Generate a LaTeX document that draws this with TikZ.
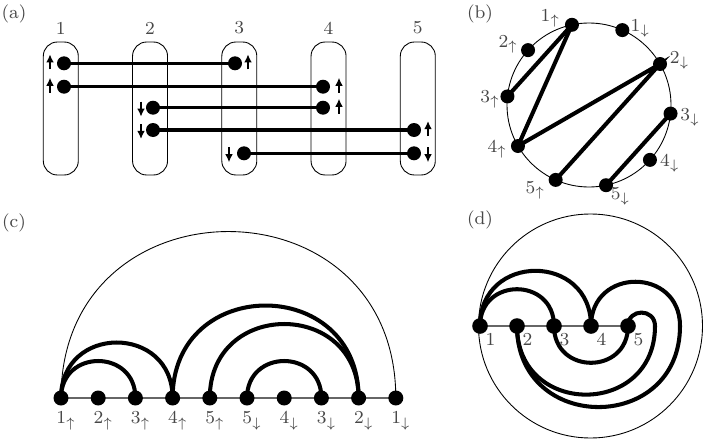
\documentclass[tikz,border=0pt]{standalone}
\usetikzlibrary{arrows.meta}
\newcommand{\tlab}[1]{\scalebox{1.3}{\footnotesize #1}}
\tikzset{
  txt/.style={black!72, inner sep=1pt},
  bond/.style={line width=1.9pt},
  chord/.style={line width=2.3pt},
  thinline/.style={line width=0.5pt},
  base/.style={line width=0.6pt, black!60},
  spin/.style={line width=1.5pt, -{Latex[length=4.6pt,width=4.4pt]}},
  colbox/.style={draw, line width=0.5pt, rounded corners=8pt, minimum width=0.7cm, minimum height=2.66cm, inner sep=0pt},
  hump/.style={out=90, in=90, looseness=1.7},
  dip/.style={out=-90, in=-90, looseness=1.7},
}
\begin{document}
\begin{tikzpicture}[x=0.02cm, y=0.02cm]
    \useasboundingbox (0,0) rectangle (703,444);

    % Hình (a): các cột và spin
    \node[txt] (ta) at (14,430) {\tlab{(a)}};
    \foreach \i in {1,...,5} {
        \node[colbox] (box\i) at ({60.8+89.25*(\i-1)}, 335.5) {};
        \node[txt] (num\i) at ({60.8+89.25*(\i-1)}, 416) {\tlab{\i}};
    }
    \coordinate (a1a) at (64, 380.7);
    \coordinate (a1b) at (64, 357.3);
    \coordinate (a2a) at (153, 336.3);
    \coordinate (a2b) at (153, 314);
    \coordinate (a3a) at (235, 380.7);
    \coordinate (a3b) at (244, 290.7);
    \coordinate (a4a) at (323, 357.3);
    \coordinate (a4b) at (323, 336.3);
    \coordinate (a5a) at (414, 314);
    \coordinate (a5b) at (414, 290.7);

    % Các liên kết
    \draw[bond] (a1a) -- (a3a);
    \draw[bond] (a1b) -- (a4a);
    \draw[bond] (a2a) -- (a4b);
    \draw[bond] (a2b) -- (a5a);
    \draw[bond] (a3b) -- (a5b);
    \foreach \p in {a1a, a1b, a2a, a2b, a3a, a3b, a4a, a4b, a5a, a5b} {
        \fill (\p) circle (7);
    }

    % Mũi tên spin
    \foreach \p/\dx in {a1a/-14, a1b/-14, a3a/13, a4a/16, a4b/16, a5a/14} {
        \draw[spin] ([shift={(\dx,-6)}]\p) -- ++(0,15);
    }
    \foreach \p/\dx in {a2a/-12, a2b/-12, a3b/-15, a5b/14} {
        \draw[spin] ([shift={(\dx,6)}]\p) -- ++(0,-15);
    }

    % Hình (b): đường tròn với các dây cung
    \node[txt] (tb) at (480,430) {\tlab{(b)}};
    \coordinate (bO) at (589,339);
    \draw[thinline] (bO) circle (82);
    \foreach \nm/\ang/\la/\ld/\lab in {b1u/102/114/95/1_\uparrow, b1d/66/56/92/1_\downarrow,
        b2d/30/26/101/2_\downarrow, b3d/-6/-7/102/3_\downarrow, b4d/-42/-36/100/4_\downarrow,
        b5d/-78/-71/97/5_\downarrow, b5u/-114/-122/101/5_\uparrow, b4u/-150/-154/102/4_\uparrow,
        b3u/174/177/99/3_\uparrow, b2u/138/143/101/2_\uparrow} {
        \coordinate (\nm) at ([shift={(\ang:82)}]bO);
        \node[txt] (l\nm) at ([shift={(\la:\ld)}]bO) {\tlab{$\lab$}};
    }
    \draw[chord] (b1u) -- (b3u);
    \draw[chord] (b1u) -- (b4u);
    \draw[chord] (b4u) -- (b2d) -- (b5u);
    \draw[chord] (b3d) -- (b5d);
    \foreach \p in {b1u, b1d, b2d, b3d, b4d, b5d, b5u, b4u, b3u, b2u} {
        \fill (\p) circle (7);
    }

    % Hình (c): các cung trên đường thẳng
    \node[txt] (tc) at (14,221) {\tlab{(c)}};
    \foreach \nm/\lab [count=\i] in {c1u/1_\uparrow, c2u/2_\uparrow, c3u/3_\uparrow, c4u/4_\uparrow,
        c5u/5_\uparrow, c5d/5_\downarrow, c4d/4_\downarrow, c3d/3_\downarrow, c2d/2_\downarrow, c1d/1_\downarrow} {
        \coordinate (\nm) at ({61+37.2*(\i-1)}, 46);
        \node[txt, anchor=north, xshift=3pt, yshift=-6.8pt] (l\nm) at (\nm) {\tlab{$\lab$}};
    }
    \draw[base] (c1u) -- (c1d);
    \draw[thinline] (c1u) to[hump] (c1d);
    \draw[chord] (c1u) to[hump] (c3u);
    \draw[chord] (c1u) to[hump] (c4u);
    \draw[chord] (c4u) to[hump] (c2d);
    \draw[chord] (c5u) to[hump] (c2d);
    \draw[chord] (c5d) to[hump] (c3d);
    \foreach \p in {c1u, c2u, c3u, c4u, c5u, c5d, c4d, c3d, c2d, c1d} {
        \fill (\p) circle (7.5);
    }

    % Hình (d): các cung trong đường tròn
    \node[txt] (td) at (480,224) {\tlab{(d)}};
    \coordinate (dO) at (590.5,118);
    \draw[thinline] (dO) circle (112);
    \foreach \nm/\xx [count=\i] in {d1/480, d2/517, d3/554, d4/591, d5/628} {
        \coordinate (\nm) at (\xx,118);
        \node[txt, anchor=north west, inner sep=0pt] (l\nm) at ([shift={(3pt,-3.8pt)}]\nm) {\tlab{\i}};
    }
    \coordinate (d4r) at (680,118);
    \coordinate (d5r) at (655,118);
    \draw[base] (d1) -- (d5);
    \draw[chord] (d1) to[hump] (d3);
    \draw[chord] (d1) to[hump] (d4);
    \draw[chord] (d3) to[dip] (d5);
    \draw[chord] (d4) to[hump] (d4r) to[dip] (d2);
    \draw[chord] (d5) to[hump] (d5r) to[dip] (d2);
    \foreach \p in {d1, d2, d3, d4, d5} {
        \fill (\p) circle (7.8);
    }

\end{tikzpicture}
\end{document}
